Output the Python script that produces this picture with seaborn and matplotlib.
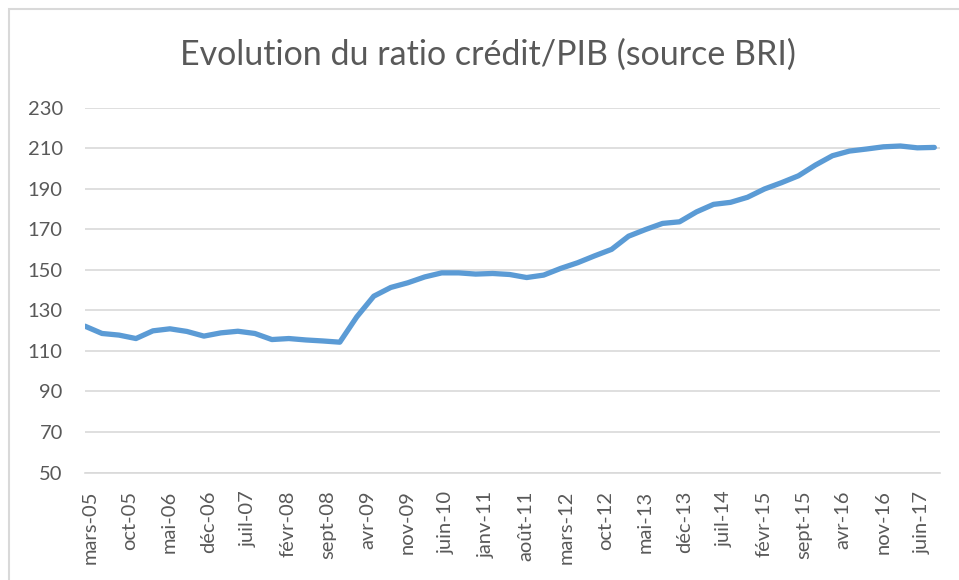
import matplotlib
matplotlib.use("Agg")
import matplotlib.pyplot as plt
import matplotlib.transforms as mtransforms
from matplotlib.patches import Rectangle
import pandas as pd
import seaborn as sns

# Quarterly observations, March 2005 to September 2017
start_date = "2005-03-01"
n_quarters = 51
ratio = [
    122.2, 118.6, 117.8, 116.1, 119.9, 120.9, 119.6, 117.3, 118.9, 119.7,
    118.6, 115.6, 116.1, 115.4, 114.9, 114.3, 126.8, 137.0, 141.3, 143.6,
    146.5, 148.5, 148.5, 147.9, 148.2, 147.7, 146.2, 147.4, 150.7, 153.5,
    156.9, 160.1, 166.6, 169.9, 172.9, 173.7, 178.6, 182.3, 183.3, 185.8,
    189.9, 193.0, 196.4, 201.7, 206.3, 208.6, 209.6, 210.7, 211.1, 210.2,
    210.4,
]

# Date-axis labels, one every seven months from mars-05
tick_labels = [
    "mars-05", "oct-05", "mai-06", "déc-06", "juil-07", "févr-08", "sept-08",
    "avr-09", "nov-09", "juin-10", "janv-11", "août-11", "mars-12", "oct-12",
    "mai-13", "déc-13", "juil-14", "févr-15", "sept-15", "avr-16", "nov-16",
    "juin-17",
]
y_ticks = [50, 70, 90, 110, 130, 150, 170, 190, 210, 230]

title = "Evolution du ratio crédit/PIB (source BRI)"

# Months elapsed since the first observation
dates = pd.date_range(start=start_date, periods=n_quarters, freq="3MS")
t0 = dates[0]
months = [(d.year - t0.year) * 12 + (d.month - t0.month) for d in dates]
df = pd.DataFrame({"mois": months, "ratio": ratio})

sns.set_theme(style="white")
plt.rcParams["font.family"] = ["Lato", "DejaVu Sans"]

TEXT = "#595959"
GRID = "#D9D9D9"
BLUE = "#5B9BD5"

fig = plt.figure(figsize=(9.59, 5.80), dpi=100)
ax = fig.add_axes([85 / 959, 1 - 472.5 / 580, (940 - 85) / 959, (472.5 - 107.7) / 580])

sns.lineplot(data=df, x="mois", y="ratio", ax=ax, color=BLUE, linewidth=3.8,
             solid_capstyle="round", solid_joinstyle="round", zorder=3)

ax.set_xlim(0, 151)
ax.set_ylim(50, 230)
ax.set_yticks(y_ticks)
ax.set_yticklabels([str(v) for v in y_ticks])
ax.set_xticks([7 * i for i in range(len(tick_labels))])
ax.set_xticklabels(tick_labels, rotation=90)

ax.yaxis.grid(True, color=GRID, linewidth=1.2)
ax.xaxis.grid(False)
ax.set_axisbelow(True)
for side in ("left", "right", "top"):
    ax.spines[side].set_visible(False)
ax.spines["bottom"].set_color(GRID)
ax.spines["bottom"].set_linewidth(1.2)

ax.tick_params(axis="y", length=0, pad=16, labelsize=14.5, labelcolor=TEXT)
ax.tick_params(axis="x", length=5, width=1.2, color=GRID, direction="out",
               pad=8, labelsize=14.5, labelcolor=TEXT)
ax.set_xlabel("")
ax.set_ylabel("")

# Shift the rotated month labels slightly right of their ticks
offset = mtransforms.ScaledTranslation(5 / 100, 0, fig.dpi_scale_trans)
for lbl in ax.get_xticklabels():
    lbl.set_transform(lbl.get_transform() + offset)

fig.text(488 / 959, 1 - 55 / 580, title, ha="center", va="center",
         fontsize=24.5, color=TEXT, fontweight="normal")

# Chart-area frame
fig.patches.append(Rectangle((9 / 959, -0.1), 1.2, 1 - 9 / 580 + 0.1,
                             transform=fig.transFigure, fill=False,
                             edgecolor=GRID, linewidth=1.5, zorder=0))

fig.savefig("out.png", dpi=100, facecolor="white")
